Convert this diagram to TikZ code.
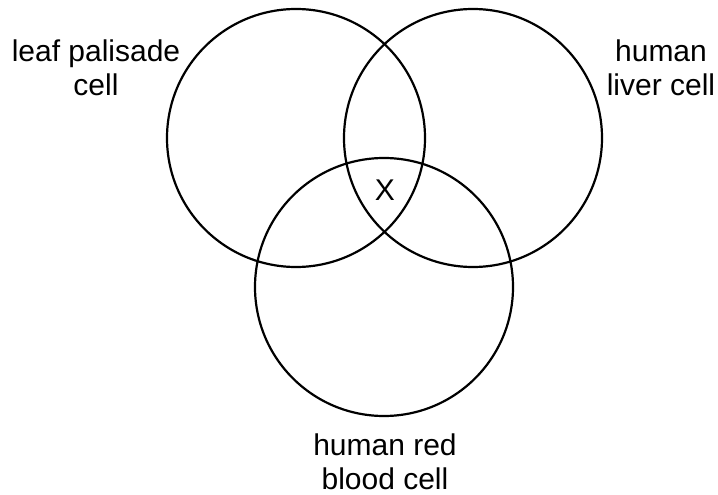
\documentclass[tikz,border=0pt]{standalone}
\usepackage{fontspec}
\setmainfont{Liberation Sans}
\usetikzlibrary{positioning}

\begin{document}
\begin{tikzpicture}[
    x=1pt, y=-1pt,
    set/.style={circle, draw, line width=2.2pt, minimum size=258pt, inner sep=0pt},
    label/.style={align=center, font=\fontsize{30}{34}\selectfont, inner sep=0pt}
]
    \useasboundingbox (0,0) rectangle (718,495);

    % The three cells
    \node[set] (leaf) at (296, 138) {};
    \node[set] (liver) at (473, 138) {};
    \node[set] (blood) at (384, 287) {};

    % Names
    \node[label] (leafname) at (96, 68) {leaf palisade\\cell};
    \node[label] (livername) at (661, 68) {human\\liver cell};
    \node[label] (bloodname) at (385, 462) {human red\\blood cell};

    % Common region
    \node[label] (common) at (385, 190) {X};
\end{tikzpicture}
\end{document}
